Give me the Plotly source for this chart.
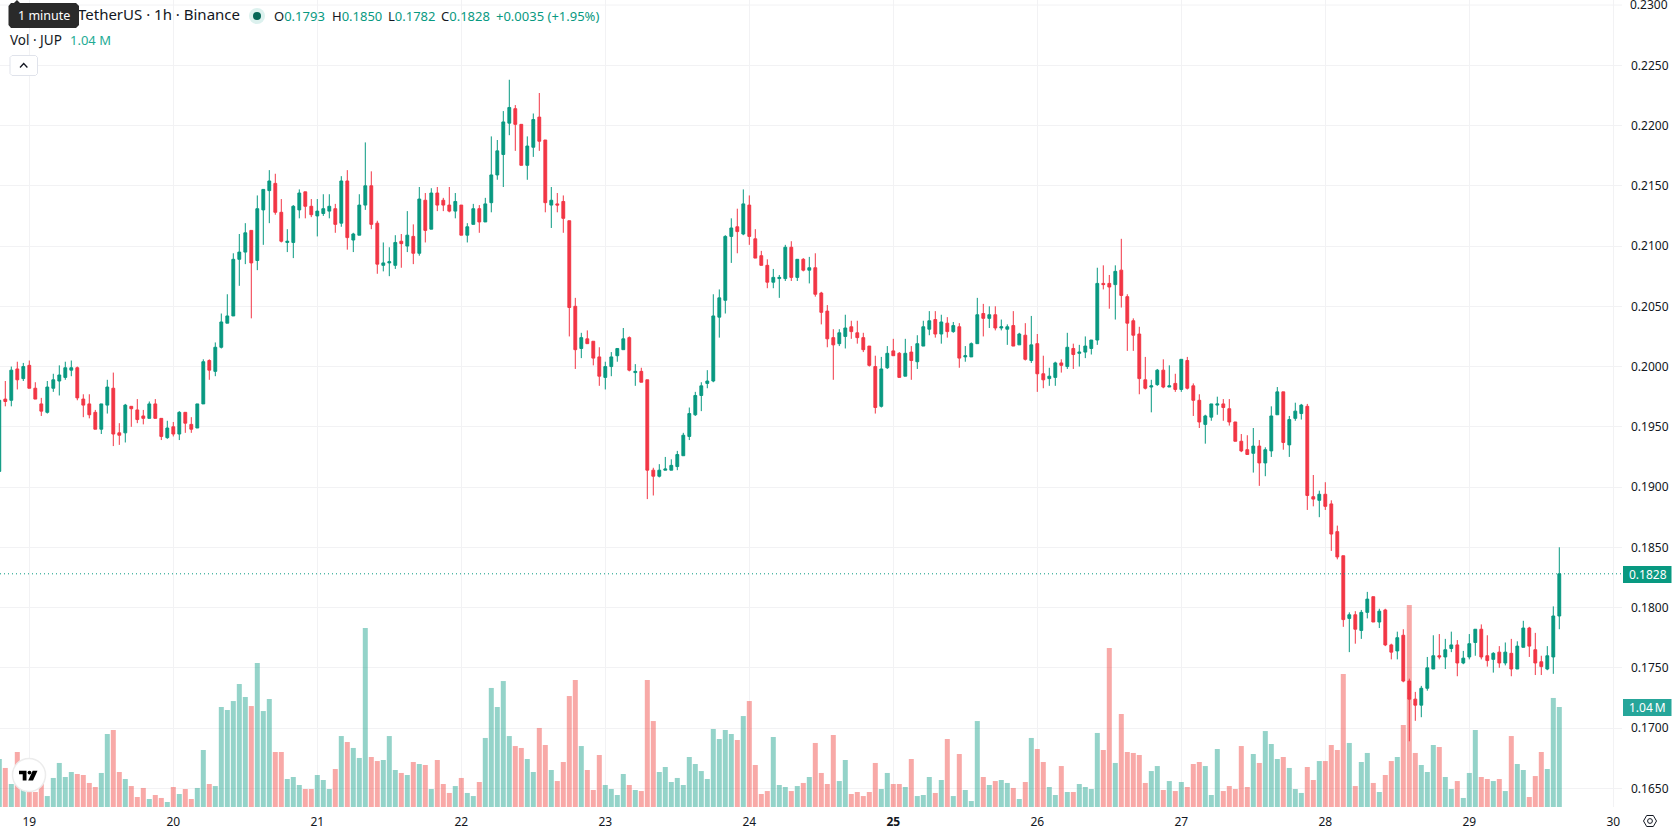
import plotly.graph_objects as go

# Hours since 00:00 on the 19th, one candle per hour
hours = list(range(-5, 256))

opens = [
    .1913,.1973,.1972,.1998,.1990,.2001,.1982,.1969,.1962,.1982,
    .1988,.1991,.1997,.1999,.1973,.1969,.1962,.1948,.1968,.1982,
    .1945,.1945,.1967,.1964,.1959,.1957,.1969,.1957,.1941,.1950,
    .1944,.1962,.1952,.1949,.1969,.2005,.1996,.2016,.2036,.2042,
    .2089,.2095,.2113,.2088,.2130,.2146,.2152,.2128,.2103,.2103,
    .2130,.2145,.2133,.2125,.2127,.2129,.2131,.2119,.2154,.2105,
    .2109,.2134,.2150,.2119,.2084,.2086,.2084,.2104,.2100,.2108,
    .2094,.2138,.2114,.2144,.2138,.2134,.2129,.2134,.2109,.2118,
    .2131,.2120,.2136,.2159,.2176,.2202,.2214,.2201,.2167,.2182,
    .2207,.2188,.2134,.2135,.2137,.2121,.2050,.2015,.2023,.2021,
    .2008,.1991,.2000,.2009,.2014,.2024,.1995,.1996,.1989,.1914,
    .1909,.1914,.1914,.1917,.1926,.1942,.1960,.1976,.1986,.1988,
    .2041,.2055,.2108,.2116,.2110,.2134,.2106,.2092,.2084,.2070,
    .2073,.2073,.2099,.2074,.2089,.2080,.2082,.2061,.2046,.2024,
    .2019,.2025,.2033,.2028,.2024,.2017,.2000,.1967,.1999,.2013,
    .2011,.1992,.2012,.2004,.2017,.2031,.2039,.2027,.2036,.2029,
    .2033,.2008,.2008,.2019,.2044,.2040,.2043,.2032,.2031,.2034,
    .2018,.2026,.2005,.2019,.1994,.1990,.1991,.2003,.2000,.2015,
    .2011,.2012,.2015,.2022,.2069,.2069,.2068,.2080,.2058,.2038,
    .2027,.1989,.1983,.1985,.1997,.1983,.1986,.1981,.2005,.1984,
    .1972,.1952,.1958,.1968,.1969,.1965,.1954,.1938,.1931,.1928,
    .1934,.1920,.1930,.1960,.1979,.1935,.1957,.1961,.1967,.1892,
    .1889,.1894,.1886,.1863,.1843,.1791,.1794,.1781,.1796,.1809,
    .1788,.1798,.1769,.1764,.1777,.1739,.1724,.1719,.1733,.1749,
    .1760,.1759,.1766,.1769,.1754,.1759,.1771,.1782,.1760,.1757,
    .1763,.1754,.1762,.1749,.1767,.1783,.1765,.1755,.1749,.1759,.1793,
]
closes = [
    .1972,.1971,.1997,.1989,.2000,.1982,.1973,.1963,.1983,.1989,
    .1993,.1999,.1999,.1974,.1968,.1960,.1948,.1969,.1983,.1944,
    .1943,.1968,.1965,.1956,.1957,.1969,.1957,.1942,.1949,.1944,
    .1962,.1953,.1948,.1969,.2004,.1997,.2016,.2037,.2042,.2089,
    .2095,.2111,.2086,.2131,.2147,.2154,.2128,.2104,.2104,.2133,
    .2144,.2133,.2126,.2129,.2131,.2133,.2118,.2154,.2107,.2110,
    .2134,.2150,.2118,.2085,.2086,.2087,.2103,.2102,.2109,.2094,
    .2139,.2113,.2144,.2134,.2134,.2129,.2137,.2109,.2116,.2131,
    .2120,.2135,.2159,.2179,.2203,.2215,.2201,.2167,.2183,.2205,
    .2187,.2136,.2138,.2134,.2123,.2049,.2014,.2024,.2019,.2007,
    .1992,.2000,.2008,.2015,.2023,.1997,.1996,.1987,.1914,.1909,
    .1914,.1915,.1918,.1927,.1943,.1961,.1976,.1984,.1988,.2042,
    .2057,.2108,.2115,.2112,.2135,.2108,.2090,.2084,.2070,.2074,
    .2074,.2099,.2074,.2089,.2080,.2082,.2060,.2045,.2023,.2018,
    .2028,.2032,.2029,.2024,.2014,.2001,.1966,.1998,.2011,.2009,
    .1991,.2011,.2005,.2019,.2033,.2038,.2027,.2037,.2029,.2034,
    .2007,.2009,.2019,.2043,.2040,.2043,.2032,.2033,.2033,.2017,
    .2027,.2006,.2018,.1994,.1989,.1992,.2003,.2001,.2016,.2010,
    .2012,.2017,.2022,.2069,.2068,.2066,.2079,.2059,.2036,.2026,
    .1990,.1982,.1984,.1997,.1983,.1984,.1981,.2006,.1982,.1972,
    .1954,.1959,.1969,.1969,.1966,.1954,.1938,.1930,.1927,.1934,
    .1920,.1931,.1959,.1979,.1937,.1956,.1963,.1968,.1893,.1890,
    .1894,.1884,.1861,.1842,.1790,.1794,.1782,.1796,.1807,.1788,
    .1797,.1769,.1763,.1775,.1739,.1724,.1719,.1733,.1750,.1760,
    .1759,.1765,.1769,.1754,.1758,.1770,.1782,.1759,.1756,.1762,
    .1754,.1763,.1749,.1768,.1783,.1768,.1754,.1751,.1760,.1793,.1828,
]
highs = [
    .1972,.1988,.2000,.2004,.2003,.2005,.1987,.1974,.1988,.1994,
    .2001,.2004,.2005,.2000,.1977,.1977,.1964,.1969,.1989,.1995,
    .1953,.1969,.1967,.1973,.1964,.1971,.1973,.1957,.1955,.1954,
    .1963,.1962,.1958,.1969,.2006,.2006,.2020,.2044,.2060,.2094,
    .2110,.2119,.2113,.2142,.2147,.2163,.2160,.2139,.2114,.2134,
    .2147,.2145,.2139,.2139,.2143,.2143,.2135,.2158,.2163,.2111,
    .2143,.2186,.2162,.2121,.2103,.2099,.2109,.2110,.2129,.2118,
    .2149,.2144,.2148,.2149,.2140,.2149,.2144,.2134,.2119,.2135,
    .2134,.2140,.2191,.2188,.2212,.2238,.2217,.2201,.2191,.2210,
    .2227,.2188,.2149,.2144,.2142,.2121,.2057,.2028,.2030,.2021,
    .2016,.2004,.2012,.2015,.2032,.2025,.2002,.1999,.1989,.1916,
    .1919,.1925,.1923,.1930,.1945,.1966,.1979,.1987,.1997,.2060,
    .2064,.2109,.2123,.2131,.2147,.2142,.2114,.2096,.2089,.2081,
    .2076,.2101,.2104,.2089,.2090,.2091,.2094,.2062,.2051,.2031,
    .2031,.2043,.2038,.2038,.2028,.2017,.2009,.2008,.2017,.2023,
    .2012,.2023,.2017,.2026,.2038,.2046,.2046,.2043,.2041,.2037,
    .2036,.2017,.2020,.2057,.2052,.2050,.2050,.2039,.2035,.2046,
    .2028,.2036,.2042,.2027,.2009,.1999,.2004,.2006,.2028,.2019,
    .2018,.2025,.2022,.2082,.2084,.2076,.2084,.2106,.2060,.2040,
    .2033,.2008,.1989,.1998,.2006,.2001,.1994,.2006,.2008,.1986,
    .1977,.1960,.1969,.1975,.1973,.1973,.1954,.1944,.1943,.1949,
    .1939,.1933,.1967,.1983,.1979,.1959,.1970,.1969,.1969,.1910,
    .1897,.1904,.1889,.1868,.1843,.1796,.1797,.1798,.1813,.1809,
    .1799,.1799,.1770,.1780,.1782,.1741,.1730,.1735,.1759,.1777,
    .1778,.1774,.1780,.1773,.1764,.1778,.1782,.1786,.1777,.1763,
    .1768,.1771,.1774,.1772,.1789,.1784,.1779,.1760,.1768,.1801,.1850,
]
lows = [
    .1913,.1967,.1967,.1981,.1988,.1982,.1973,.1959,.1961,.1979,
    .1976,.1989,.1992,.1972,.1958,.1957,.1948,.1944,.1961,.1934,
    .1935,.1937,.1950,.1953,.1952,.1957,.1957,.1939,.1940,.1942,
    .1939,.1945,.1945,.1949,.1969,.1989,.1992,.2015,.2036,.2042,
    .2067,.2085,.2040,.2080,.2101,.2119,.2126,.2103,.2095,.2090,
    .2123,.2123,.2124,.2108,.2125,.2123,.2111,.2116,.2097,.2095,
    .2109,.2130,.2114,.2077,.2079,.2075,.2081,.2082,.2095,.2085,
    .2092,.2103,.2114,.2129,.2129,.2128,.2123,.2109,.2103,.2118,
    .2111,.2120,.2128,.2155,.2149,.2192,.2179,.2167,.2155,.2174,
    .2179,.2128,.2115,.2128,.2111,.2025,.1998,.2007,.2019,.2001,
    .1984,.1981,.1992,.2004,.2014,.1996,.1984,.1987,.1890,.1893,
    .1908,.1914,.1914,.1914,.1926,.1939,.1959,.1963,.1982,.1987,
    .2024,.2044,.2086,.2094,.2109,.2101,.2090,.2084,.2065,.2065,
    .2057,.2071,.2071,.2071,.2079,.2069,.2058,.2035,.2016,.1989,
    .2017,.2015,.2023,.2019,.2012,.2000,.1961,.1966,.1998,.2009,
    .1991,.1992,.1989,.1998,.2017,.2026,.2024,.2019,.2024,.2028,
    .1999,.2004,.2008,.2019,.2025,.2032,.2030,.2030,.2018,.2017,
    .2018,.2005,.2003,.1979,.1982,.1984,.1984,.1995,.1998,.1998,
    .2000,.2007,.2010,.2018,.2064,.2048,.2039,.2049,.2013,.2013,
    .1977,.1981,.1962,.1984,.1982,.1983,.1979,.1979,.1981,.1959,
    .1949,.1936,.1955,.1960,.1955,.1951,.1938,.1929,.1927,.1912,
    .1901,.1909,.1925,.1960,.1931,.1925,.1955,.1956,.1881,.1884,
    .1875,.1881,.1847,.1840,.1784,.1763,.1770,.1774,.1791,.1788,
    .1783,.1768,.1757,.1757,.1738,.1689,.1706,.1709,.1731,.1749,
    .1757,.1749,.1763,.1743,.1753,.1757,.1760,.1757,.1751,.1746,
    .1750,.1752,.1743,.1749,.1767,.1759,.1744,.1744,.1748,.1745,.1782,
]
# Hourly traded volume, thousands of JUP
volumes_k = [
    499,406,239,572,177,156,156,246,114,302,
    458,312,364,343,333,250,208,354,759,801,
    364,291,218,104,198,83,125,94,52,208,
    135,187,83,198,593,239,218,1040,1009,1102,
    1279,1144,1050,1498,998,1123,572,572,291,312,
    229,187,187,333,281,187,395,738,676,614,
    510,1862,520,478,489,738,385,354,333,468,
    447,437,187,489,239,146,218,302,146,114,
    260,718,1238,1040,1310,738,634,614,499,364,
    822,645,385,270,468,1154,1321,634,385,177,
    541,229,187,125,343,229,177,166,1321,894,
    364,416,260,302,229,520,447,374,291,811,
    707,801,759,697,946,1102,437,135,166,728,
    229,208,166,218,250,312,666,354,239,749,
    270,489,135,156,114,156,458,187,354,239,
    239,208,499,114,125,312,146,281,707,114,
    551,177,62,894,312,229,270,281,250,198,
    83,260,718,603,468,208,125,426,156,156,
    239,208,187,770,593,1654,458,967,572,562,
    541,250,374,426,177,270,166,260,208,447,
    468,426,125,603,166,218,187,634,208,551,
    458,790,655,499,520,406,187,146,416,281,
    478,478,645,593,1383,666,218,468,562,250,
    156,333,478,520,853,2101,562,437,364,645,
    624,312,187,270,94,354,801,312,291,270,
    291,166,738,447,385,104,322,572,395,1134,1040,
]

day_ticks = [0, 24, 48, 72, 96, 120, 144, 168, 192, 216, 240, 264]
day_labels = ["19", "20", "21", "22", "23", "24", "<b>25</b>", "26", "27", "28", "29", "30"]
price_ticks = [round(0.165 + 0.005 * i, 3) for i in range(14)]
price_labels = [f"{p:.4f}" for p in price_ticks]

LAST_CLOSE = closes[-1]
LAST_VOLUME_LABEL = "1.04 M"

UP = "#089981"
DOWN = "#F23645"
UP_VOL = "rgba(8,153,129,0.43)"
DOWN_VOL = "rgba(238,60,55,0.44)"
GRID = "#F2F2F4"
TEXT = "#131722"
FONT = "Noto Sans"

WIDTH, HEIGHT = 1678, 835
PLOT_W, PLOT_H = 1622, 807


def px(x):
    return x / PLOT_W


def py(y):
    return 1 - y / PLOT_H


def path(points, close=True):
    body = " ".join(("M" if i == 0 else "L") + f"{px(x):.5f},{py(y):.5f}" for i, (x, y) in enumerate(points))
    return body + (" Z" if close else "")


def label(x, y, text, color=TEXT, size=13, anchor="left"):
    return dict(xref="paper", yref="paper", x=px(x), y=py(y), text=text, showarrow=False,
                xanchor=anchor, yanchor="middle", align=anchor,
                font=dict(family=FONT, size=size, color=color), borderpad=0, borderwidth=0)


def box(x0, y0, x1, y1, fill, line=None):
    return dict(type="rect", xref="paper", yref="paper", x0=px(x0), y0=py(y0), x1=px(x1), y1=py(y1),
                fillcolor=fill, line=dict(color=line or fill, width=1 if line else 0), layer="above")


def disc(cx, cy, r, fill, line=None, width=1):
    return dict(type="circle", xref="paper", yref="paper", x0=px(cx - r), y0=py(cy - r), x1=px(cx + r), y1=py(cy + r),
                fillcolor=fill, line=dict(color=line or fill, width=width if line else 0), layer="above")


def outline(points, fill, line=None, width=1, close=True):
    return dict(type="path", xref="paper", yref="paper", path=path(points, close), fillcolor=fill,
                line=dict(color=line or fill, width=width if line else 0), layer="above")


fig = go.Figure()

fig.add_trace(go.Bar(
    x=hours, y=volumes_k, yaxis="y", width=5 / 6,
    marker=dict(color=[UP_VOL if c >= o else DOWN_VOL for o, c in zip(opens, closes)], line_width=0),
    hoverinfo="skip", showlegend=False,
))
fig.add_trace(go.Candlestick(
    x=hours, open=opens, high=highs, low=lows, close=closes, yaxis="y2",
    increasing=dict(line=dict(color=UP, width=1), fillcolor=UP),
    decreasing=dict(line=dict(color=DOWN, width=1), fillcolor=DOWN),
    whiskerwidth=0, hoverinfo="skip", showlegend=False,
))
# Symbol title sits in the plot layer so the tooltip box can cover its start
fig.add_trace(go.Scatter(
    x=[(240 - 29.3) / 6], y=[0.2291], yaxis="y2", mode="text", text=["TetherUS · 1h · Binance"],
    textposition="middle left", textfont=dict(family=FONT, size=15, color=TEXT),
    hoverinfo="skip", showlegend=False, cliponaxis=False,
))

shapes = [
    # Last price line
    dict(type="line", xref="paper", yref="y2", x0=0, x1=1, y0=LAST_CLOSE, y1=LAST_CLOSE,
         line=dict(color=UP, width=1, dash="1px,3px"), layer="above"),
    # Axis value tags
    box(1623, 566, 1671.5, 583, UP),
    box(1623, 699, 1671.5, 716, "#26A69A"),
    # Status dot in the legend
    disc(257, 16, 8, "#DCF1EE"),
    disc(257, 16, 4, "#056656"),
    # Collapse button
    outline([(12, 55.5), (35.5, 55.5), (37.5, 57.5), (37.5, 73.5), (35.5, 75.5), (12, 75.5), (10, 73.5), (10, 57.5)],
            "#FFFFFF", "#E0E3EB"),
    outline([(20, 67.5), (23.7, 63.5), (27.4, 67.5)], "rgba(0,0,0,0)", "#131722", 1.3, close=False),
    # Tooltip box with its pointer
    outline([(11, 3), (14, 3), (17, 0), (20, 3), (76, 3), (79, 6), (79, 25), (76, 28), (11, 28),
             (8.5, 25), (8.5, 6)], "#2A2A2A"),
    # Logo badge
    disc(29, 775, 16.5, "#FFFFFF", "#ECECEC", 1.5),
    outline([(19, 770.7), (26.5, 770.7), (26.5, 780.5), (22.7, 780.5), (22.7, 774.3), (19, 774.3)], "#000000"),
    disc(29.5, 772.6, 1.9, "#000000"),
    outline([(32.7, 770.7), (37.5, 770.7), (33, 780.5), (28.2, 780.5)], "#000000"),
    # Settings icon in the axis corner
    outline([(1643.5, 821), (1646.7, 815.5), (1653.3, 815.5), (1656.5, 821), (1653.3, 826.5), (1646.7, 826.5)],
            "rgba(0,0,0,0)", TEXT, 1),
    disc(1650, 821, 2.4, "rgba(0,0,0,0)", TEXT, 1),
]

annotations = [
    label(43.5, 15.5, "1 minute", "#FFFFFF", 12.5, "center"),
    label(274, 16, f"O<span style='color:{UP}'>{opens[-1]:.4f}</span>"),
    label(332, 16, f"H<span style='color:{UP}'>{highs[-1]:.4f}</span>"),
    label(388, 16, f"L<span style='color:{UP}'>{lows[-1]:.4f}</span>"),
    label(441, 16, f"C<span style='color:{UP}'>{closes[-1]:.4f}</span>"),
    label(496, 16, f"<span style='color:{UP}'>+0.0035 (+1.95%)</span>"),
    label(9.5, 40.5, "Vol · JUP", size=13.5),
    label(69.5, 40.5, LAST_VOLUME_LABEL, "#22AB94"),
    label(1647.5, 574.5, f"{LAST_CLOSE:.4f}", "#FFFFFF", 12, "center"),
    label(1647.5, 707.5, LAST_VOLUME_LABEL.replace(" ", "\u2009"), "#FFFFFF", 12, "center"),
    # The topmost price label rides on the plot edge, so it is placed by hand
    label(1629.5, 5, price_labels[-1], size=12),
]

fig.update_layout(
    width=WIDTH, height=HEIGHT, autosize=False,
    margin=dict(l=0, r=WIDTH - PLOT_W, t=0, b=HEIGHT - PLOT_H, pad=0),
    paper_bgcolor="#FFFFFF", plot_bgcolor="#FFFFFF",
    font=dict(family=FONT, size=12, color=TEXT),
    hovermode=False, dragmode=False, showlegend=False, barmode="overlay",
    boxgap=0.33,
    xaxis=dict(
        range=[(0 - 29.3) / 6, (PLOT_W - 29.3) / 6],
        tickmode="array", tickvals=day_ticks, ticktext=day_labels,
        showgrid=True, gridcolor=GRID, gridwidth=1, zeroline=False, showline=False,
        ticks="", ticklabelstandoff=6, rangeslider=dict(visible=False),
        tickfont=dict(family=FONT, size=12, color=TEXT),
    ),
    yaxis=dict(range=[0, PLOT_H / 100 * volumes_k[-1]], visible=False, showgrid=False, zeroline=False),
    yaxis2=dict(
        range=[0.165 - 18.7 / 12050, 0.165 + 788.3 / 12050],
        overlaying="y", side="right", anchor="x",
        tickmode="array", tickvals=price_ticks[:-1], ticktext=price_labels[:-1],
        showgrid=True, gridcolor=GRID, gridwidth=1, zeroline=False, showline=False,
        ticks="", ticklabelstandoff=8,
        tickfont=dict(family=FONT, size=12, color=TEXT),
    ),
    shapes=shapes + [
        # Gridline for the topmost price level
        dict(type="line", xref="paper", yref="y2", x0=0, x1=1, y0=price_ticks[-1], y1=price_ticks[-1],
             line=dict(color=GRID, width=1), layer="below"),
    ],
    annotations=annotations,
)

fig.write_html("out.html", config=dict(displayModeBar=False))
